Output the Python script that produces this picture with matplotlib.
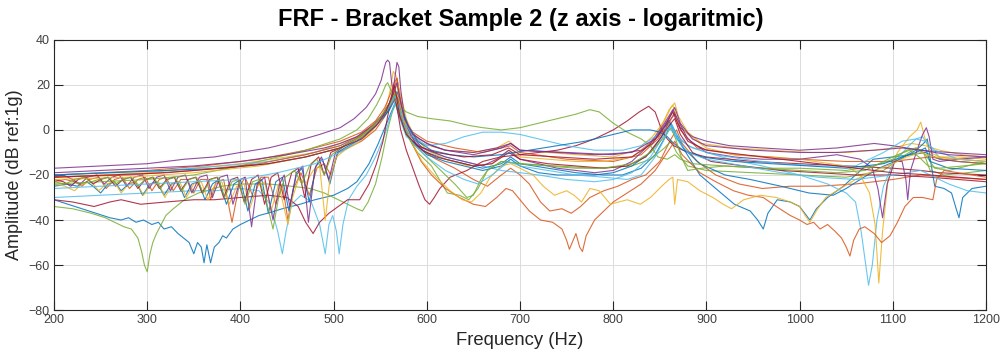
import matplotlib
matplotlib.use("Agg")
import matplotlib.pyplot as plt

# Frequency response curves, (frequency Hz, amplitude dB re 1 g)
blue_low = [(200,-31),(215,-33),(230,-35),(245,-37),(260,-39),(272,-40),(280,-39),(288,-41),(296,-40),(305,-42),(312,-41),(318,-44),(326,-43),(333,-46),(339,-48),(345,-50),(350,-55),(354,-50),(358,-52),(361,-59),(364,-51),(368,-59),(372,-52),(377,-50),(381,-47),(385,-48),(392,-44),(400,-42),(410,-40),(420,-38),(429,-37),(445,-35),(464,-33),(480,-31),(500,-29),(515,-26),(525,-23),(538,-15),(548,-6),(556,2),(562,8),(566,12),(570,8),(576,0),(585,-6),(600,-10),(620,-13),(640,-15),(660,-17),(680,-15),(690,-12),(700,-15),(730,-17),(760,-19),(790,-20),(810,-20),(830,-17),(845,-11),(856,-3),(862,3),(868,-2),(878,-10),(893,-20),(910,-26),(930,-33),(947,-36),(955,-40),(961,-44),(966,-37),(976,-31),(990,-32),(1000,-34),(1011,-40),(1018,-35),(1030,-30),(1047,-25),(1060,-20),(1079,-13),(1100,-12),(1120,-11),(1135,-10),(1150,-13),(1170,-14),(1200,-15)]

orange_ripple = [(200,-23),(212,-22),(222,-23),(230,-25),(238,-22),(248,-21),(256,-26),(265,-22),(273,-21),(281,-26),(290,-22),(298,-21),(305,-27),(313,-22),(320,-21),(328,-27),(336,-22),(343,-22),(350,-28),(357,-22),(364,-22),(368,-31),(374,-23),(382,-22),(391,-41),(398,-26),(405,-21),(414,-30),(422,-21),(430,-21),(438,-33),(445,-24),(451,-40),(457,-26),(465,-19),(474,-29),(482,-17),(490,-15),(497,-20),(505,-10),(515,-8),(530,-5),(545,0),(555,6),(561,12),(565,18),(568,23),(571,16),(575,5),(583,-3),(595,-9),(610,-13),(630,-17),(650,-22),(665,-25),(680,-20),(690,-17),(700,-20),(710,-24),(722,-32),(732,-36),(745,-35),(755,-37),(765,-34),(775,-30),(790,-27),(805,-25),(820,-22),(835,-20),(850,-14),(862,-4),(868,0),(874,-6),(890,-14),(910,-20),(935,-24),(960,-26),(990,-25),(1020,-25),(1060,-24),(1100,-22),(1130,-20),(1160,-21),(1200,-22)]

yellow_upper = [(200,-21),(250,-20),(300,-19),(350,-17),(400,-15),(450,-12),(480,-10),(507,-6),(525,-3),(540,1),(550,5),(557,11),(561,18),(564,26),(567,24),(570,14),(575,5),(582,-1),(595,-6),(620,-9),(650,-10),(675,-8),(688,-5),(700,-9),(730,-10),(760,-11),(800,-12),(825,-9),(842,-3),(855,4),(862,10),(866,12),(870,6),(880,-1),(895,-6),(930,-8),(970,-9),(1010,-10),(1050,-10),(1080,-9),(1100,-8),(1120,-6),(1135,-7),(1150,-9),(1175,-11),(1200,-12)]

purple_top = [(200,-17),(250,-16),(300,-15),(340,-13),(372,-12),(400,-10),(430,-8),(460,-5),(485,-2),(507,1),(522,5),(535,10),(545,16),(551,22),(554,27),(556,30),(558,31),(560,30),(562,22),(565,14),(569,8),(575,3),(583,-1),(592,-4),(605,-7),(620,-9),(650,-10),(675,-8),(690,-6),(700,-9),(750,-10),(800,-11),(830,-9),(848,-3),(860,4),(866,7),(872,1),(885,-3),(900,-5),(925,-7),(960,-8),(1000,-9),(1040,-8),(1080,-6),(1100,-7),(1130,-9),(1160,-10),(1200,-11)]

green_deep = [(200,-34),(220,-35),(240,-37),(255,-39),(265,-41),(275,-43),(283,-44),(290,-48),(294,-54),(297,-60),(300,-63),(303,-55),(306,-50),(310,-46),(315,-42),(320,-38),(328,-35),(340,-31),(355,-28),(364,-27),(380,-25),(400,-24),(430,-24),(455,-25),(475,-26),(490,-28),(505,-31),(515,-33),(525,-35),(531,-36),(537,-32),(545,-24),(552,-12),(558,0),(563,8),(567,12),(571,6),(578,-2),(590,-10),(605,-16),(622,-28),(635,-29),(645,-31),(655,-26),(665,-18),(680,-14),(700,-15),(740,-16),(780,-17),(820,-16),(840,-13),(855,-8),(862,-5),(868,-10),(880,-16),(900,-18),(950,-19),(1000,-20),(1050,-21),(1090,-18),(1110,-12),(1125,-8),(1133,-10),(1140,-18),(1155,-20),(1180,-19),(1200,-18)]

lightblue_dips = [(200,-30),(250,-29),(300,-28),(350,-27),(372,-27),(400,-26),(420,-27),(432,-33),(440,-45),(445,-55),(449,-45),(455,-33),(465,-29),(476,-32),(485,-42),(491,-55),(495,-42),(499,-38),(503,-45),(506,-55),(510,-42),(516,-31),(525,-25),(535,-20),(545,-12),(555,-2),(561,6),(566,12),(571,5),(578,-3),(600,-9),(620,-12),(650,-15),(680,-18),(700,-19),(720,-20),(750,-22),(780,-23),(800,-22),(820,-19),(840,-12),(855,-2),(862,3),(868,-2),(880,-7),(900,-10),(925,-13),(960,-16),(1000,-20),(1030,-24),(1050,-28),(1060,-32),(1066,-45),(1071,-60),(1074,-69),(1078,-60),(1083,-40),(1090,-25),(1100,-15),(1115,-8),(1125,-4),(1132,-3),(1138,-7),(1150,-12),(1170,-13),(1200,-14)]

red_deep = [(200,-31),(220,-32),(243,-34),(260,-32),(272,-31),(293,-33),(320,-32),(350,-31),(372,-31),(400,-30),(430,-29),(450,-30),(462,-34),(470,-41),(478,-46),(485,-41),(495,-37),(505,-34),(515,-31),(528,-31),(538,-24),(546,-15),(553,-5),(558,6),(562,14),(565,16),(568,10),(572,0),(578,-9),(585,-17),(592,-25),(598,-31),(603,-33),(608,-30),(614,-26),(625,-21),(643,-18),(660,-14),(679,-12),(700,-11),(720,-10),(740,-9),(760,-7),(780,-4),(800,0),(815,4),(828,8),(838,10.5),(845,8),(852,0),(858,-4),(865,-7),(880,-10),(900,-12),(950,-14),(1000,-15),(1050,-16),(1100,-17),(1130,-18),(1150,-19),(1200,-20)]

blue_ripple = [(200,-25),(215,-24),(225,-25),(235,-23),(242,-25),(250,-28),(258,-24),(265,-23),(272,-27),(280,-24),(288,-23),(295,-29),(303,-24),(310,-23),(318,-29),(326,-24),(333,-23),(340,-30),(348,-24),(355,-23),(362,-31),(370,-24),(377,-22),(385,-33),(393,-24),(400,-22),(408,-36),(416,-24),(423,-22),(430,-37),(438,-23),(445,-21),(452,-36),(460,-20),(466,-17),(474,-32),(481,-16),(488,-13),(496,-24),(504,-10),(512,-8),(525,-5),(540,0),(552,5),(560,9),(565,13),(568,15),(572,9),(578,2),(588,-6),(600,-11),(620,-14),(640,-16),(660,-18),(680,-16),(690,-13),(700,-16),(720,-19),(740,-20),(760,-20),(780,-20),(800,-19),(820,-16),(840,-10),(852,-3),(860,4),(866,-2),(875,-8),(893,-15),(920,-20),(947,-22),(980,-25),(1010,-28),(1036,-29),(1050,-26),(1065,-22),(1085,-17),(1108,-13),(1125,-9),(1133,-6),(1137,-4),(1141,-15),(1145,-25),(1155,-26),(1163,-28),(1168,-35),(1171,-39),(1175,-30),(1185,-26),(1200,-25)]

orange_upper = [(200,-20),(250,-19),(300,-18),(360,-16),(420,-13),(470,-9),(507,-5),(530,-1),(545,4),(555,10),(561,16),(565,21),(568,23),(571,15),(576,5),(585,-1),(600,-5),(630,-8),(660,-10),(690,-7),(700,-10),(750,-13),(800,-14),(830,-11),(848,-4),(860,3),(866,8),(872,0),(890,-8),(930,-11),(970,-12),(1000,-13),(1050,-14),(1100,-14),(1140,-12),(1170,-14),(1200,-15)]

yellow_plunge = [(200,-24),(212,-25),(222,-27),(230,-24),(240,-23),(248,-27),(256,-24),(265,-23),(272,-28),(280,-24),(288,-23),(296,-29),(304,-24),(312,-23),(319,-30),(327,-24),(335,-23),(342,-30),(350,-24),(358,-23),(365,-31),(373,-24),(380,-23),(388,-33),(396,-25),(404,-24),(410,-35),(418,-25),(426,-23),(433,-36),(441,-24),(446,-33),(451,-42),(456,-30),(463,-21),(470,-24),(478,-18),(485,-16),(491,-40),(496,-22),(503,-12),(512,-9),(525,-6),(540,-1),(552,5),(560,12),(565,18),(569,20),(573,14),(578,5),(585,-2),(600,-9),(620,-13),(645,-16),(670,-15),(688,-9),(700,-12),(730,-13),(760,-14),(790,-14),(820,-12),(840,-6),(852,2),(860,9),(864,11),(869,4),(880,-2),(900,-8),(930,-11),(960,-12),(1000,-13),(1033,-15),(1050,-16),(1065,-20),(1075,-28),(1081,-42),(1085,-68),(1089,-45),(1095,-22),(1105,-10),(1118,-3),(1126,0),(1130,3.5),(1134,-3),(1140,-10),(1150,-12),(1170,-12),(1200,-13)]

purple_ripple = [(200,-21),(210,-20),(220,-22),(228,-24),(236,-21),(246,-20),(254,-24),(262,-21),(270,-20),(278,-25),(286,-21),(295,-20),(302,-26),(310,-21),(318,-20),(325,-27),(333,-21),(341,-20),(348,-28),(356,-21),(364,-20),(370,-30),(378,-21),(386,-20),(392,-33),(400,-22),(405,-21),(412,-43),(418,-24),(426,-21),(435,-40),(442,-24),(447,-20),(453,-34),(460,-19),(467,-16),(473,-41),(480,-17),(487,-12),(495,-22),(502,-10),(512,-7),(525,-4),(540,0),(552,6),(560,12),(564,18),(566,24),(568,30),(570,28),(572,18),(576,6),(583,-2),(595,-8),(620,-12),(640,-14),(660,-16),(675,-13),(688,-9),(700,-13),(720,-15),(740,-17),(760,-18),(780,-19),(800,-18),(820,-14),(840,-6),(855,3),(864,9),(870,4),(880,-4),(900,-10),(930,-12),(960,-13),(1000,-13),(1040,-11),(1065,-13),(1078,-17),(1084,-26),(1089,-39),(1094,-24),(1102,-14),(1110,-14),(1114,-22),(1116,-31),(1119,-18),(1126,-9),(1132,-2),(1136,1),(1139,-3),(1143,-13),(1150,-14),(1170,-13),(1200,-12)]

green_hump = [(200,-24),(250,-23),(300,-22),(350,-20),(400,-16),(440,-12),(470,-9),(507,-4),(525,0),(537,5),(546,11),(552,16),(556,20),(558,21),(561,18),(565,14),(570,11),(578,8),(590,6),(605,5),(625,4),(645,2),(660,1),(680,0),(700,1),(720,3),(740,5),(760,7),(775,9),(785,8),(800,3),(815,-1),(830,-4),(840,-7),(848,-12),(858,-13),(866,-11),(872,-13),(885,-15),(920,-16),(960,-17),(1000,-17),(1050,-18),(1080,-16),(1100,-13),(1115,-9),(1125,-8),(1135,-11),(1145,-17),(1160,-18),(1180,-16),(1200,-14)]

lightblue_bump = [(200,-20),(260,-19),(320,-18),(380,-16),(430,-14),(470,-11),(507,-7),(530,-3),(546,3),(556,8),(562,12),(566,16),(570,12),(576,4),(585,-3),(600,-7),(620,-6),(640,-3),(660,-1),(680,-1),(700,-2),(720,-4),(750,-7),(780,-9),(810,-9),(830,-7),(845,-3),(855,1),(862,0),(870,-4),(885,-8),(910,-11),(940,-13),(980,-15),(1020,-16),(1060,-16),(1090,-10),(1110,-5),(1125,-4),(1135,-5),(1145,-9),(1170,-13),(1200,-14)]

red_ripple = [(200,-22),(210,-23),(218,-25),(226,-22),(234,-21),(242,-24),(250,-22),(258,-21),(266,-25),(274,-22),(282,-21),(290,-26),(298,-22),(306,-21),(313,-26),(321,-22),(329,-21),(336,-27),(344,-22),(352,-21),(359,-28),(367,-22),(375,-21),(382,-30),(390,-22),(397,-21),(404,-32),(412,-22),(419,-20),(426,-33),(433,-21),(440,-19),(447,-31),(455,-19),(462,-17),(469,-30),(476,-15),(484,-12),(490,-20),(497,-10),(507,-8),(520,-5),(535,-1),(548,4),(557,9),(563,14),(566,17),(569,13),(574,4),(582,-4),(595,-9),(610,-12),(630,-14),(650,-16),(670,-15),(688,-10),(700,-13),(730,-15),(760,-16),(790,-17),(815,-16),(835,-12),(850,-4),(860,2),(866,5),(872,-2),(885,-10),(905,-14),(940,-16),(980,-18),(1020,-19),(1060,-20),(1100,-20),(1140,-21),(1170,-22),(1200,-23)]

blue_rising = [(200,-20),(260,-19),(320,-18),(380,-17),(430,-15),(470,-12),(507,-8),(530,-3),(548,3),(558,8),(564,13),(568,17),(572,11),(580,2),(590,-5),(605,-9),(625,-11),(650,-12),(680,-11),(710,-9),(740,-7),(770,-5),(800,-2),(820,0),(840,0),(850,-1),(858,-3),(865,-6),(875,-9),(895,-12),(930,-14),(970,-15),(1010,-16),(1050,-17),(1090,-15),(1110,-12),(1125,-10),(1135,-8),(1140,-14),(1160,-17),(1200,-18)]

orange_deep = [(200,-21),(280,-20),(350,-18),(420,-15),(470,-11),(507,-7),(530,-2),(547,4),(558,9),(564,13),(568,15),(572,10),(577,2),(584,-6),(594,-14),(605,-20),(620,-26),(635,-30),(650,-33),(663,-34),(675,-30),(685,-26),(692,-27),(700,-31),(710,-36),(722,-40),(735,-41),(745,-44),(750,-49),(753,-53),(756,-50),(760,-46),(764,-52),(767,-54),(771,-47),(780,-40),(790,-36),(800,-32),(815,-28),(830,-24),(845,-18),(858,-10),(866,-5),(874,-11),(893,-19),(910,-23),(929,-27),(945,-29),(961,-30),(975,-34),(990,-38),(1000,-40),(1008,-42),(1015,-41),(1022,-44),(1030,-42),(1038,-45),(1045,-48),(1050,-52),(1054,-56),(1058,-49),(1064,-44),(1070,-43),(1080,-46),(1088,-50),(1097,-47),(1105,-41),(1113,-34),(1122,-30),(1132,-30),(1143,-31),(1147,-22),(1155,-18),(1170,-19),(1185,-20),(1200,-21)]

yellow_low = [(200,-22),(280,-21),(350,-19),(420,-16),(470,-12),(507,-8),(530,-3),(546,3),(556,8),(562,13),(566,17),(570,14),(575,5),(583,-5),(595,-14),(610,-21),(625,-27),(638,-31),(648,-32),(658,-28),(668,-21),(680,-16),(690,-15),(700,-17),(714,-20),(725,-25),(737,-29),(750,-27),(758,-29),(766,-32),(775,-26),(785,-27),(797,-33),(815,-31),(829,-33),(840,-30),(852,-25),(860,-22),(864,-21),(866,-33),(869,-22),(880,-23),(893,-27),(907,-30),(918,-33),(927,-35),(940,-31),(958,-29),(975,-30),(990,-32),(1000,-34),(1006,-38),(1011,-41),(1018,-36),(1028,-30),(1036,-28),(1048,-25),(1060,-22),(1080,-18),(1100,-15),(1115,-12),(1130,-10),(1145,-12),(1170,-13),(1200,-14)]

purple_mid = [(200,-19),(250,-18),(300,-17),(350,-16),(400,-14),(450,-11),(490,-8),(507,-6),(525,-3),(542,2),(553,7),(560,12),(565,17),(568,21),(571,14),(576,5),(585,-2),(600,-6),(620,-9),(650,-11),(680,-8),(690,-6),(700,-9),(740,-10),(780,-11),(820,-10),(845,-4),(858,4),(866,10),(872,3),(885,-4),(900,-7),(950,-9),(1000,-10),(1040,-10),(1080,-9),(1110,-8),(1130,-9),(1160,-11),(1200,-12)]

green_ripple = [(200,-23),(212,-24),(222,-22),(232,-21),(240,-23),(248,-22),(258,-21),(266,-24),(274,-22),(283,-21),(290,-25),(298,-22),(307,-21),(314,-26),(322,-22),(330,-21),(337,-27),(345,-22),(353,-21),(360,-28),(368,-22),(376,-21),(383,-30),(391,-23),(398,-22),(405,-33),(413,-23),(420,-22),(428,-32),(435,-44),(441,-30),(448,-21),(458,-18),(466,-24),(474,-16),(482,-13),(490,-20),(498,-11),(508,-8),(520,-5),(535,-1),(547,4),(556,9),(562,13),(566,16),(570,10),(576,0),(585,-6),(600,-12),(615,-18),(630,-24),(643,-30),(650,-29),(658,-22),(665,-18),(680,-14),(700,-15),(730,-16),(760,-17),(790,-17),(820,-15),(840,-10),(855,-3),(862,1),(867,-4),(873,-12),(880,-18),(895,-17),(920,-16),(960,-17),(1000,-18),(1040,-19),(1070,-18),(1090,-14),(1105,-11),(1118,-9),(1128,-12),(1138,-16),(1150,-17),(1175,-16),(1200,-15)]

lightblue_low = [(200,-26),(250,-25),(300,-24),(350,-23),(400,-22),(440,-19),(480,-15),(507,-10),(530,-4),(546,2),(556,8),(562,12),(566,15),(570,11),(576,2),(585,-6),(600,-12),(620,-18),(640,-22),(655,-24),(670,-20),(688,-14),(700,-16),(730,-18),(760,-20),(790,-21),(815,-22),(830,-20),(845,-12),(855,-4),(862,2),(868,-4),(880,-10),(900,-13),(940,-16),(980,-19),(1020,-21),(1060,-22),(1100,-20),(1130,-18),(1160,-24),(1180,-27),(1200,-28)]

red_upper = [(200,-21),(260,-20),(320,-19),(380,-17),(430,-15),(470,-12),(507,-8),(530,-4),(546,2),(556,8),(562,14),(565,20),(567,16),(571,6),(578,-2),(590,-7),(610,-10),(640,-12),(670,-11),(688,-8),(700,-11),(740,-12),(780,-13),(820,-12),(842,-6),(856,2),(864,8),(870,2),(880,-5),(900,-9),(940,-11),(980,-13),(1020,-15),(1060,-17),(1100,-19),(1140,-20),(1170,-21),(1200,-22)]

# MATLAB default color order, cycled in plotting order
color_order = ['#0072BD', '#D95319', '#EDB120', '#7E2F8E', '#77AC30', '#4DBEEE', '#A2142F']

curves = [blue_low, orange_ripple, yellow_upper, purple_top, green_deep, lightblue_dips, red_deep,
          blue_ripple, orange_upper, yellow_plunge, purple_ripple, green_hump, lightblue_bump, red_ripple,
          blue_rising, orange_deep, yellow_low, purple_mid, green_ripple, lightblue_low, red_upper]

x_ticks = [200, 300, 400, 500, 600, 700, 800, 900, 1000, 1100, 1200]
y_ticks = [-80, -60, -40, -20, 0, 20, 40]

fig = plt.figure(figsize=(10, 3.56), dpi=100)
ax = fig.add_axes([0.054, 0.129, 0.932, 0.759])

for i, pts in enumerate(curves):
    f = [p[0] for p in pts]
    a = [p[1] for p in pts]
    ax.plot(f, a, color=color_order[i % len(color_order)], lw=0.8, alpha=0.85,
            solid_joinstyle='round')

ax.set_xlim(200, 1200)
ax.set_ylim(-80, 40)
ax.set_xticks(x_ticks)
ax.set_yticks(y_ticks)
ax.grid(True, color='#dcdcdc', lw=0.7)
ax.set_axisbelow(True)

tick_font = ['Liberation Sans Narrow', 'Liberation Sans', 'DejaVu Sans']
ax.tick_params(direction='in', length=6.5, width=0.8, colors='#262626',
               top=True, right=True, labelsize=9, pad=3)
for lab in ax.get_xticklabels() + ax.get_yticklabels():
    lab.set_fontfamily(tick_font)
    lab.set_color('#404040')
for sp in ax.spines.values():
    sp.set_color('#262626')
    sp.set_linewidth(0.8)

ax.set_xlabel('Frequency (Hz)', fontsize=13.3, color='#262626',
              family=['Liberation Sans', 'DejaVu Sans'], labelpad=4)
ax.set_ylabel('Amplitude (dB ref:1g)', fontsize=13, color='#262626',
              family=['Liberation Sans', 'DejaVu Sans'], labelpad=4)
fig.text(0.521, 0.945, 'FRF - Bracket Sample 2 (z axis - logaritmic)', ha='center', va='center',
         fontsize=17, fontweight='bold', color='black', family=['Liberation Sans', 'DejaVu Sans'])

fig.savefig('out.png', dpi=100)
